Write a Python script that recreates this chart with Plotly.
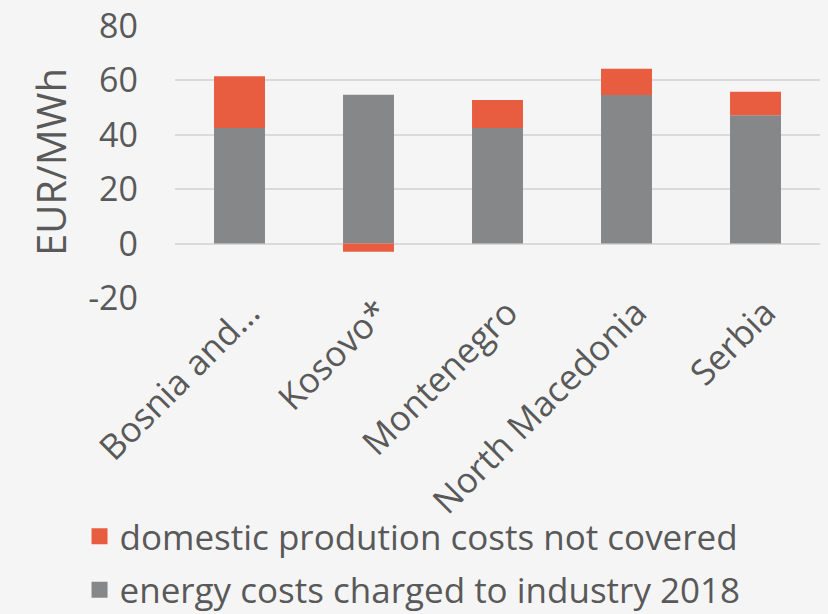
import plotly.graph_objects as go

# chart data
countries = ["Bosnia and…", "Kosovo*", "Montenegro", "North Macedonia", "Serbia"]
energy_costs = [42.5, 54.7, 42.5, 54.6, 47.2]
not_covered = [19.0, -3.0, 10.3, 9.7, 8.6]
y_ticks = [-20, 0, 20, 40, 60, 80]
y_tick_text = ["-20", "0", "20", "40", "60", "80"]

ORANGE = "#E85D40"
GREY = "#868789"
TEXT = "#595959"
BG = "#F5F5F5"
FONT = "Open Sans, Noto Sans, sans-serif"

fig = go.Figure()

# bars (legend handled by square markers below)
fig.add_trace(go.Bar(x=countries, y=energy_costs,
                     marker=dict(color=GREY, line=dict(width=0)),
                     name="energy costs charged to industry 2018", showlegend=False))
fig.add_trace(go.Bar(x=countries, y=not_covered,
                     marker=dict(color=ORANGE, line=dict(width=0)),
                     name="domestic prodution costs not covered", showlegend=False))

# legend entries with larger square swatches
fig.add_trace(go.Scatter(x=[None], y=[None], mode="markers", legendgroup="a",
                         marker=dict(symbol="square", size=16, color=ORANGE),
                         name="domestic prodution costs not covered"))
fig.add_trace(go.Scatter(x=[None], y=[None], mode="markers", legendgroup="b",
                         marker=dict(symbol="square", size=16, color=GREY),
                         name="energy costs charged to industry 2018"))

fig.update_layout(
    width=828, height=614,
    barmode="relative",
    bargap=0.605,
    paper_bgcolor=BG,
    plot_bgcolor=BG,
    font=dict(family=FONT, color=TEXT),
    margin=dict(l=175, r=8, t=26, b=316, autoexpand=False),
    showlegend=True,
    legend=dict(
        orientation="v",
        x=-0.148, xanchor="left",
        y=-0.768, yanchor="top",
        font=dict(size=35, color=TEXT, family=FONT),
        traceorder="grouped",
        tracegroupgap=5,
        itemsizing="trace",
        bgcolor="rgba(0,0,0,0)",
    ),
    xaxis=dict(
        tickangle=-45,
        tickfont=dict(size=35, color=TEXT),
        showgrid=False,
        showline=False,
        ticks="",
        automargin=False,
        ticklabelstandoff=-14,
        ticklabelshift=10,
    ),
    yaxis=dict(
        range=[-20, 80],
        tickvals=y_ticks,
        ticktext=y_tick_text,
        tickfont=dict(size=34, color=TEXT),
        showgrid=True,
        gridcolor="#DADADA",
        gridwidth=2,
        zeroline=True,
        zerolinecolor="#DADADA",
        zerolinewidth=2,
        automargin=False,
        ticklabelstandoff=36,
        title=dict(text="EUR/MWh", font=dict(size=40, color=TEXT), standoff=9),
    ),
)

fig.write_html("out.html", config={"displayModeBar": False},
               post_script="document.body.style.margin='0';")
